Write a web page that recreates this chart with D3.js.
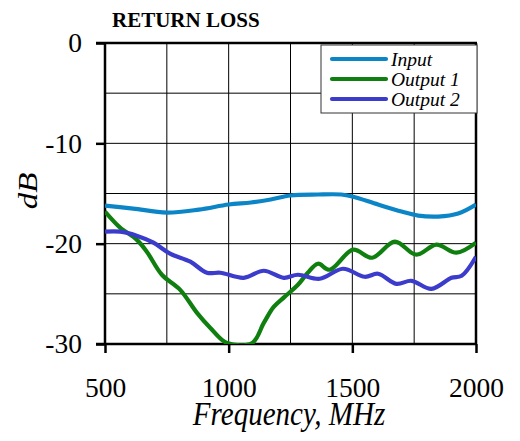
<!DOCTYPE html>
<html>
<head>
<meta charset="utf-8">
<script src="https://cdn.jsdelivr.net/npm/d3@7"></script>
<style>
	body { margin: 0; background: #fff; }
	text { font-family: 'Liberation Serif', 'Times New Roman', serif; }
</style>
</head>
<body>
<script>
// Series
const inputFreq = [500, 614, 750, 880, 1000, 1090, 1170, 1250, 1361, 1455, 1500, 1604, 1699, 1766, 1847, 1928, 2000];
const inputDb = [-16.2, -16.5, -16.9, -16.6, -16.1, -15.9, -15.6, -15.2, -15.1, -15.1, -15.3, -16.1, -16.8, -17.2, -17.3, -17.0, -16.1];

const out1Freq = [500, 561, 628, 669, 730, 804, 872, 926, 993, 1095, 1142, 1182, 1226, 1280, 1320, 1361, 1408, 1503, 1580, 1672, 1759, 1840, 1921, 2000];
const out1Db = [-16.8, -18.4, -19.6, -20.8, -23.1, -24.6, -26.9, -28.4, -29.9, -29.9, -27.9, -26.3, -25.3, -24.1, -22.9, -22.0, -22.6, -20.6, -21.4, -19.8, -21.1, -20.1, -20.9, -19.9];

const out2Freq = [500, 561, 628, 696, 763, 845, 912, 966, 1061, 1142, 1223, 1280, 1368, 1462, 1550, 1604, 1678, 1739, 1820, 1901, 1942, 2000];
const out2Db = [-18.8, -18.8, -19.2, -19.9, -21.0, -21.8, -22.9, -22.9, -23.4, -22.7, -23.4, -23.1, -23.5, -22.5, -23.3, -23.0, -24.0, -23.7, -24.5, -23.4, -23.2, -21.3];

const seriesNames = ['Input', 'Output 1', 'Output 2'];
const seriesColors = ['#0c85c7', '#0f800f', '#3b3bcc'];

const xTicks = [500, 1000, 1500, 2000];
const yTicks = [0, -10, -20, -30];

const width = 520;
const height = 441;
const margin = {left: 105, top: 43, right: 44, bottom: 97};
const plotW = width - margin.left - margin.right;
const plotH = height - margin.top - margin.bottom;
const serif = "'Liberation Serif', 'Times New Roman', serif";

const svg = d3.select('body').append('svg').attr('width', width).attr('height', height);

const x = d3.scaleLinear().domain([500, 2000]).range([margin.left, margin.left + plotW]);
const y = d3.scaleLinear().domain([-30, 0]).range([margin.top + plotH, margin.top]);

// Grid lines every 250 MHz and 5 dB
const grid = svg.append('g').attr('stroke', '#000').attr('stroke-width', 1);
grid.selectAll('.vg')
	.data(d3.range(750, 2000, 250))
	.enter()
	.append('line')
	.attr('x1', (d) => x(d)).attr('x2', (d) => x(d))
	.attr('y1', y(0)).attr('y2', y(-30));
grid.selectAll('.hg')
	.data(d3.range(-25, 0, 5))
	.enter()
	.append('line')
	.attr('x1', x(500)).attr('x2', x(2000))
	.attr('y1', (d) => y(d)).attr('y2', (d) => y(d));

// Frame: top and right border
svg.append('line').attr('x1', x(500) - 9).attr('x2', x(2000) + 1).attr('y1', y(0)).attr('y2', y(0))
	.attr('stroke', '#000').attr('stroke-width', 2.5);
svg.append('line').attr('x1', x(2000)).attr('x2', x(2000)).attr('y1', y(0)).attr('y2', y(-30))
	.attr('stroke', '#000').attr('stroke-width', 2.5);

// Axes (plain hyphen for negatives, as in the original)
const yAxis = svg.append('g')
	.attr('transform', `translate(${margin.left},0)`)
	.call(d3.axisLeft(y).tickValues(yTicks).tickSize(9).tickPadding(14).tickFormat((d) => String(d)));
const xAxis = svg.append('g')
	.attr('transform', `translate(0,${margin.top + plotH})`)
	.call(d3.axisBottom(x).tickValues(xTicks).tickSize(9).tickPadding(24).tickFormat((d) => String(d)));

[xAxis, yAxis].forEach((ax) => {
	ax.select('.domain').attr('stroke', '#000').attr('stroke-width', 2.5);
	ax.selectAll('.tick line').attr('stroke', '#000').attr('stroke-width', 2.5);
	ax.selectAll('.tick text')
		.attr('fill', '#000')
		.style('font-family', serif)
		.style('font-size', '27.5px');
});
yAxis.select('.domain').attr('d', `M0,${y(0)}V${y(-30)}`);
xAxis.select('.domain').attr('d', `M${x(500) - 9},0H${x(2000)}`);

// Lines
const line = d3.line()
	.x((d) => x(d[0]))
	.y((d) => y(d[1]))
	.curve(d3.curveCatmullRom.alpha(0.5));

const seriesData = [
	d3.zip(inputFreq, inputDb),
	d3.zip(out1Freq, out1Db),
	d3.zip(out2Freq, out2Db)
];

svg.append('clipPath').attr('id', 'clip')
	.append('rect').attr('x', margin.left).attr('y', margin.top - 2).attr('width', plotW).attr('height', plotH + 2);

svg.append('g')
	.attr('clip-path', 'url(#clip)')
	.selectAll('path')
	.data(seriesData)
	.enter()
	.append('path')
	.attr('d', line)
	.attr('fill', 'none')
	.attr('stroke', (d, i) => seriesColors[i])
	.attr('stroke-width', 4.2)
	.attr('stroke-linejoin', 'round');

// Legend
const legend = svg.append('g').attr('transform', 'translate(321,45)');
legend.append('rect')
	.attr('width', 156).attr('height', 68)
	.attr('fill', '#fff').attr('stroke', '#333').attr('stroke-width', 1);
const items = legend.selectAll('.item')
	.data(seriesNames)
	.enter()
	.append('g')
	.attr('transform', (d, i) => `translate(0,${14 + i * 20})`);
items.append('line')
	.attr('x1', 11).attr('x2', 65)
	.attr('stroke', (d, i) => seriesColors[i])
	.attr('stroke-width', 4.2)
	.attr('stroke-linecap', 'round');
items.append('text')
	.attr('x', 70).attr('y', 6.5)
	.style('font-family', serif)
	.style('font-size', '19.5px')
	.style('font-style', 'italic')
	.text((d) => d);

// Titles
svg.append('text')
	.attr('x', 112).attr('y', 26.5)
	.style('font-family', serif)
	.style('font-size', '21px')
	.style('font-weight', 'bold')
	.text('RETURN LOSS');

svg.append('text')
	.attr('transform', 'translate(36.5,191) rotate(-90) scale(1,0.83)')
	.attr('text-anchor', 'middle')
	.style('font-family', serif)
	.style('font-size', '33px')
	.style('font-style', 'italic')
	.text('dB');

svg.append('text')
	.attr('transform', 'translate(289,425) scale(0.88,1)')
	.attr('text-anchor', 'middle')
	.style('font-family', serif)
	.style('font-size', '33px')
	.style('font-style', 'italic')
	.text('Frequency, MHz');
</script>
</body>
</html>
